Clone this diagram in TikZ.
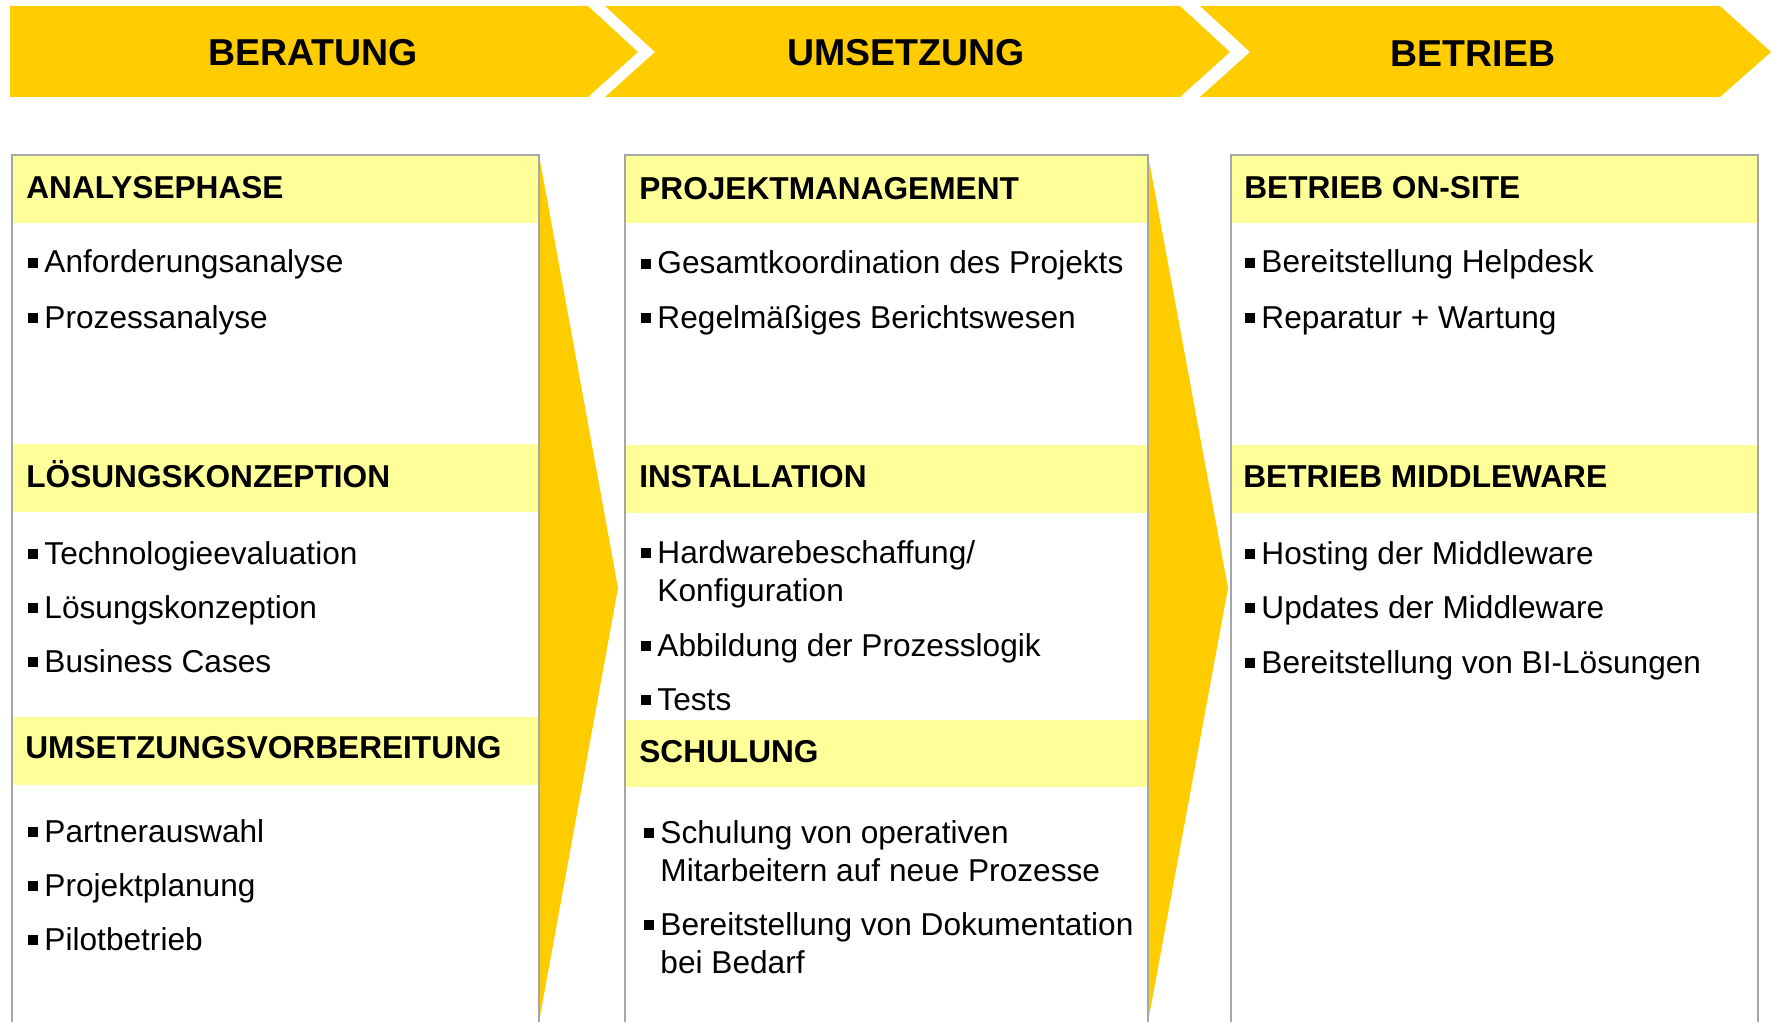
\documentclass[tikz,border=0pt]{standalone}
\usepackage{xcolor}
\usepackage{fontspec}
\setmainfont{Liberation Sans}
\usepackage{tikz}
\usetikzlibrary{positioning}

\definecolor{phaseyellow}{HTML}{FFCC00}
\definecolor{bandyellow}{HTML}{FFFF99}
\definecolor{panelgray}{HTML}{A6A6A6}

\newcommand{\bul}{\rule[0.15em]{0.31em}{0.31em}\hspace{0.2em}}
\newcommand{\bulgap}{\hphantom{\bul}}
\newcommand{\twolines}[2]{\begin{tabular}[t]{@{}l@{}}\bul#1\\\bulgap#2\end{tabular}}

\begin{document}
\begin{tikzpicture}[x=0.2mm, y=-0.2mm,
    phase/.style={font=\fontsize{21.3}{25}\selectfont\bfseries, inner sep=0pt, anchor=base},
    head/.style={font=\fontsize{18}{22}\selectfont\bfseries, inner sep=0pt, anchor=base west},
    item/.style={font=\fontsize{18}{22}\selectfont, inner sep=0pt, anchor=base west},
    panel/.style={draw=panelgray, line width=0.4mm}]
\useasboundingbox (0,0) rectangle (1773,1022);

% phase banner
\fill[phaseyellow] (10,6) -- (588,6) -- (638,52) -- (588,97) -- (10,97) -- cycle;
\fill[phaseyellow] (605,6) -- (1180,6) -- (1230,52) -- (1180,97) -- (605,97) -- (655,52) -- cycle;
\fill[phaseyellow] (1200,6) -- (1720,6) -- (1771,52) -- (1720,97) -- (1200,97) -- (1250,52) -- cycle;
\node[phase] (phase_0) at (313,66) {BERATUNG};
\node[phase] (phase_1) at (906,66) {UMSETZUNG};
\node[phase] (phase_2) at (1473,67) {BETRIEB};

% wedges between the panels
\fill[phaseyellow] (539,155) -- (618,588) -- (539,1022) -- cycle;
\fill[phaseyellow] (1148,155) -- (1228,588) -- (1148,1022) -- cycle;

% header bands
\fill[bandyellow] (12,156) rectangle (539,223);
\fill[bandyellow] (12,444) rectangle (539,512);
\fill[bandyellow] (12,717) rectangle (539,785);
\fill[bandyellow] (625,156) rectangle (1148,223);
\fill[bandyellow] (625,445) rectangle (1148,513);
\fill[bandyellow] (625,720) rectangle (1148,787);
\fill[bandyellow] (1231,156) rectangle (1758,223);
\fill[bandyellow] (1231,445) rectangle (1758,513);

% panels
\draw[panel] (12,1030) |- (539,155) -- (539,1030);
\draw[panel] (625,1030) |- (1148,155) -- (1148,1030);
\draw[panel] (1231,1030) |- (1758,155) -- (1758,1030);

% Beratung
\node[head] (head_0a) at (26,199) {ANALYSEPHASE};
\node[item] (item_0a_1) at (28,273) {\bul Anforderungsanalyse};
\node[item] (item_0a_2) at (28,328) {\bul Prozessanalyse};
\node[head] (head_0b) at (26,487) {LÖSUNGSKONZEPTION};
\node[item] (item_0b_1) at (28,564) {\bul Technologieevaluation};
\node[item] (item_0b_2) at (28,618) {\bul Lösungskonzeption};
\node[item] (item_0b_3) at (28,672) {\bul Business Cases};
\node[head] (head_0c) at (25,758) {UMSETZUNGSVORBEREITUNG};
\node[item] (item_0c_1) at (28,842) {\bul Partnerauswahl};
\node[item] (item_0c_2) at (28,896) {\bul Projektplanung};
\node[item] (item_0c_3) at (28,950) {\bul Pilotbetrieb};

% Umsetzung
\node[head] (head_1a) at (639,200) {PROJEKTMANAGEMENT};
\node[item] (item_1a_1) at (641,274) {\bul Gesamtkoordination des Projekts};
\node[item] (item_1a_2) at (641,328) {\bul Regelmäßiges Berichtswesen};
\node[head] (head_1b) at (639,487) {INSTALLATION};
\node[item] (item_1b_1) at (641,563) {\twolines{Hardwarebeschaffung/}{Konfiguration}};
\node[item] (item_1b_2) at (641,656) {\bul Abbildung der Prozesslogik};
\node[item] (item_1b_3) at (641,710) {\bul Tests};
\node[head] (head_1c) at (639,762) {SCHULUNG};
\node[item] (item_1c_1) at (644,843) {\twolines{Schulung von operativen}{Mitarbeitern auf neue Prozesse}};
\node[item] (item_1c_2) at (644,935) {\twolines{Bereitstellung von Dokumentation}{bei Bedarf}};

% Betrieb
\node[head] (head_2a) at (1244,199) {BETRIEB ON-SITE};
\node[item] (item_2a_1) at (1245,273) {\bul Bereitstellung Helpdesk};
\node[item] (item_2a_2) at (1245,328) {\bul Reparatur + Wartung};
\node[head] (head_2b) at (1243,487) {BETRIEB MIDDLEWARE};
\node[item] (item_2b_1) at (1245,564) {\bul Hosting der Middleware};
\node[item] (item_2b_2) at (1245,618) {\bul Updates der Middleware};
\node[item] (item_2b_3) at (1245,673) {\bul Bereitstellung von BI-Lösungen};

\end{tikzpicture}
\end{document}
